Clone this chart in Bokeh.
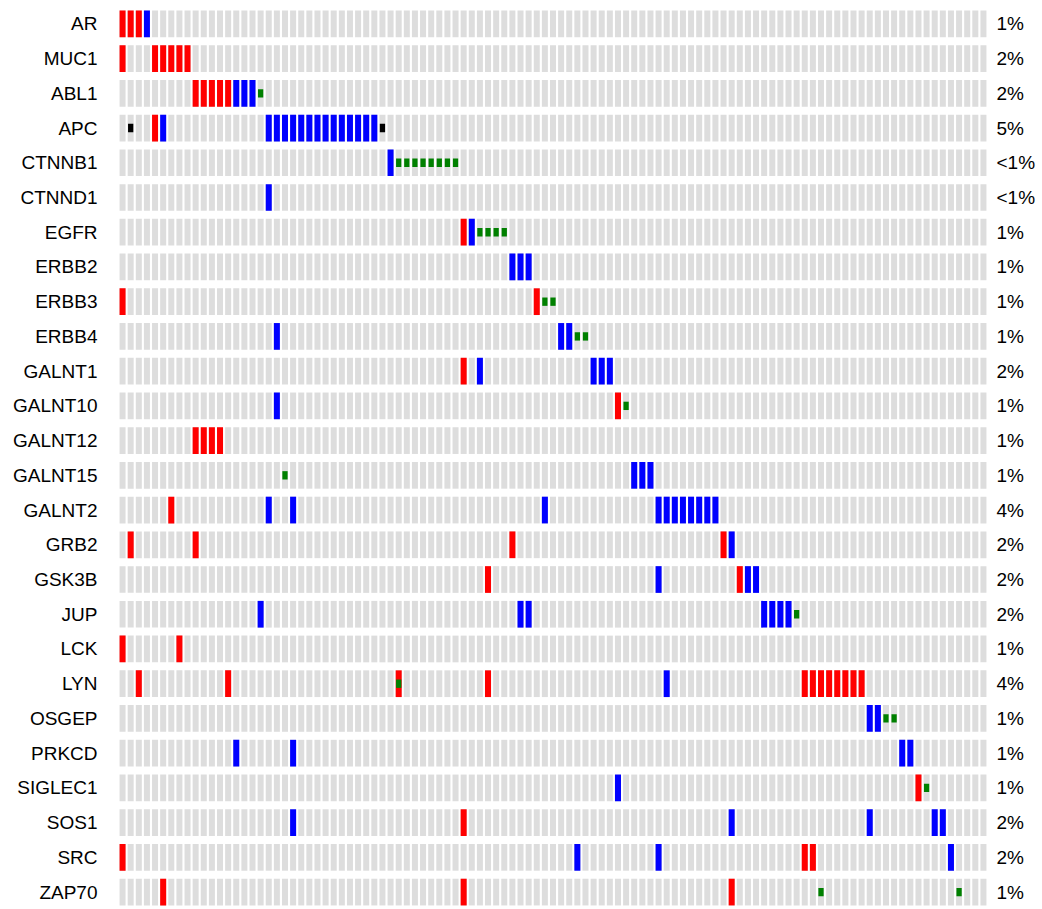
from bokeh.plotting import figure
from bokeh.models import Range1d, LinearAxis, FixedTicker, ColumnDataSource
from bokeh.embed import file_html
from bokeh.resources import INLINE

genes = ["AR", "MUC1", "ABL1", "APC", "CTNNB1", "CTNND1", "EGFR", "ERBB2", "ERBB3",
         "ERBB4", "GALNT1", "GALNT10", "GALNT12", "GALNT15", "GALNT2", "GRB2", "GSK3B",
         "JUP", "LCK", "LYN", "OSGEP", "PRKCD", "SIGLEC1", "SOS1", "SRC", "ZAP70"]
pct_labels = ["1%", "2%", "2%", "5%", "<1%", "<1%", "1%", "1%", "1%", "1%", "2%", "1%",
              "1%", "1%", "4%", "2%", "2%", "2%", "1%", "4%", "1%", "1%", "1%", "2%",
              "2%", "1%"]
n_samples = 107

# amplification (red full bar), sample column indices per gene
amp = {
    "AR": [0, 1, 2], "MUC1": [0, 4, 5, 6, 7, 8], "ABL1": [9, 10, 11, 12, 13], "APC": [4],
    "EGFR": [42], "ERBB3": [0, 51], "GALNT1": [42], "GALNT10": [61],
    "GALNT12": [9, 10, 11, 12], "GALNT2": [6], "GRB2": [1, 9, 48, 74], "GSK3B": [45, 76],
    "LCK": [0, 7], "LYN": [2, 13, 34, 45, 84, 85, 86, 87, 88, 89, 90, 91],
    "SIGLEC1": [98], "SOS1": [42], "SRC": [0, 84, 85], "ZAP70": [5, 42, 75],
}
# deep deletion (blue full bar)
homdel = {
    "AR": [3], "ABL1": [14, 15, 16],
    "APC": [5, 18, 19, 20, 21, 22, 23, 24, 25, 26, 27, 28, 29, 30, 31],
    "CTNNB1": [33], "CTNND1": [18], "EGFR": [43], "ERBB2": [48, 49, 50],
    "ERBB4": [19, 54, 55], "GALNT1": [44, 58, 59, 60], "GALNT10": [19],
    "GALNT15": [63, 64, 65], "GALNT2": [18, 21, 52, 66, 67, 68, 69, 70, 71, 72, 73],
    "GRB2": [75], "GSK3B": [66, 77, 78], "JUP": [17, 49, 50, 79, 80, 81, 82],
    "LYN": [67], "OSGEP": [92, 93], "PRKCD": [14, 21, 96, 97], "SIGLEC1": [61],
    "SOS1": [21, 75, 92, 100, 101], "SRC": [56, 66, 102],
}
# missense mutation (small green box)
mut = {
    "ABL1": [17], "CTNNB1": [34, 35, 36, 37, 38, 39, 40, 41], "EGFR": [44, 45, 46, 47],
    "ERBB3": [52, 53], "ERBB4": [56, 57], "GALNT10": [62], "GALNT15": [20], "JUP": [83],
    "LYN": [34], "OSGEP": [94, 95], "SIGLEC1": [99], "ZAP70": [86, 103],
}
# truncating mutation (small black box)
trunc = {"APC": [1, 32]}

GREY, RED, BLUE, GREEN, BLACK = "#DDDDDD", "#FF0000", "#0000FF", "#008000", "#000000"


def cells(d):
    xs, ys = [], []
    for g, cols in d.items():
        r = genes.index(g)
        xs += cols
        ys += [r] * len(cols)
    return ColumnDataSource(dict(x=xs, y=ys))


bg_x = [c for r in range(len(genes)) for c in range(n_samples)]
bg_y = [r for r in range(len(genes)) for c in range(n_samples)]

p = figure(frame_width=869, frame_height=906, output_backend="svg", toolbar_location=None,
           x_range=Range1d(-0.5, n_samples - 0.5), y_range=Range1d(25.415, -0.672),
           min_border_left=118, min_border_right=10, min_border_top=0, min_border_bottom=0,
           x_axis_location=None, y_axis_location=None)
p.outline_line_color = None
p.xgrid.visible = False
p.ygrid.visible = False
p.background_fill_color = "white"
p.border_fill_color = "white"

BW, BH = 0.74, 0.769
MW, MH = 0.65, 0.24

p.rect(x=bg_x, y=bg_y, width=BW, height=BH, fill_color=GREY, line_color=None)
p.rect(x="x", y="y", width=BW, height=BH, source=cells(amp), fill_color=RED, line_color=None)
p.rect(x="x", y="y", width=BW, height=BH, source=cells(homdel), fill_color=BLUE, line_color=None)
p.rect(x="x", y="y", width=MW, height=MH, source=cells(mut), fill_color=GREEN, line_color=None)
p.rect(x="x", y="y", width=MW, height=MH, source=cells(trunc), fill_color=BLACK, line_color=None)

ticks = list(range(len(genes)))
left = LinearAxis(ticker=FixedTicker(ticks=ticks))
left.major_label_overrides = {i: g for i, g in enumerate(genes)}
right = LinearAxis(ticker=FixedTicker(ticks=ticks))
right.major_label_overrides = {i: t for i, t in enumerate(pct_labels)}
for ax, standoff in ((left, 21), (right, 9)):
    ax.axis_line_color = None
    ax.major_tick_line_color = None
    ax.minor_tick_line_color = None
    ax.major_tick_out = 0
    ax.major_tick_in = 0
    ax.minor_tick_out = 0
    ax.minor_tick_in = 0
    ax.major_label_standoff = standoff
    ax.major_label_text_font = "Liberation Sans"
    ax.major_label_text_font_size = "19px"
    ax.major_label_text_color = "#000000"
p.add_layout(left, "left")
p.add_layout(right, "right")

open("out.html", "w").write(file_html(p, INLINE))
